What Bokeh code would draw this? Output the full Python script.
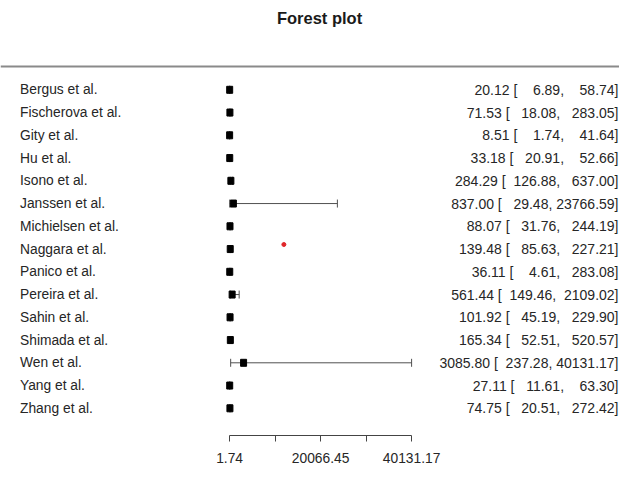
from bokeh.plotting import figure
from bokeh.models import (Range1d, LinearAxis, FixedTicker, Whisker, TeeHead,
                          ColumnDataSource, Span, CustomJSTickFormatter)
from bokeh.core.properties import value
from bokeh.embed import file_html
from bokeh.resources import INLINE

# ---------------- data ----------------
studies = ["Bergus et al.", "Fischerova et al.", "Gity et al.", "Hu et al.",
           "Isono et al.", "Janssen et al.", "Michielsen et al.", "Naggara et al.",
           "Panico et al.", "Pereira et al.", "Sahin et al.", "Shimada et al.",
           "Wen et al.", "Yang et al.", "Zhang et al."]
estimate = [20.12, 71.53, 8.51, 33.18, 284.29, 837.00, 88.07, 139.48,
            36.11, 561.44, 101.92, 165.34, 3085.80, 27.11, 74.75]
lower = [6.89, 18.08, 1.74, 20.91, 126.88, 29.48, 31.76, 85.63,
         4.61, 149.46, 45.19, 52.51, 237.28, 11.61, 20.51]
upper = [58.74, 283.05, 41.64, 52.66, 637.00, 23766.59, 244.19, 227.21,
         283.08, 2109.02, 229.90, 520.57, 40131.17, 63.30, 272.42]
tick_values = [1.74, 20066.45, 40131.17]
minor_tick_values = [10034.1, 30098.81]
extra_point_x = [11970.0]   # stray red dot near the Naggara row
extra_point_y = [7.8]
title_text = "Forest plot"

# ---------------- layout (pixels) ----------------
W, H = 619, 471
FRAME_H = 435
px_lo, px_hi = 229.1, 411.1          # pixel positions of first / last axis tick
row_top_px, row_gap = 89.3, 22.75
FONT = "Liberation Sans"
TXT = "#262626"
NB = "\u00a0"

lo_t, hi_t = tick_values[0], tick_values[-1]
s = (px_hi - px_lo) / (hi_t - lo_t)
f_start = lo_t - px_lo / s
f_end = lo_t + (W - px_lo) / s

y_top = 1 - row_top_px / row_gap
y_bot = 1 + (FRAME_H - row_top_px) / row_gap


def fmt(v):
    return f"{v:.2f}".rjust(8)


annot = [f"{fmt(e)} [{fmt(l)}, {fmt(u)}]".replace(" ", NB)
         for e, l, u in zip(estimate, lower, upper)]

rows = list(range(1, len(studies) + 1))
src = ColumnDataSource(dict(study=studies, y=rows, est=estimate, lo=lower, hi=upper,
                            annot=annot))

p = figure(width=W, height=H, x_range=Range1d(0, W),
           y_range=Range1d(y_bot, y_top), x_axis_type=None, y_axis_type=None,
           output_backend="svg", toolbar_location=None,
           min_border_left=0, min_border_right=0, min_border_top=0,
           min_border_bottom=H - FRAME_H)
p.extra_x_ranges = {"forest": Range1d(f_start, f_end)}
p.grid.visible = False
p.outline_line_color = None
p.background_fill_color = "white"
p.border_fill_color = "white"

# title
p.text(x=[319], y=[y_top + 17.4 / row_gap], text=[title_text], text_font=value(FONT),
       text_font_size="16.5px", text_font_style="bold", text_color="#1a1a1a",
       text_align="center", text_baseline="middle")

# header rule
p.add_layout(Span(location=y_top + 66 / row_gap, dimension="width",
                  line_color="#8a8a8a", line_width=2))

# study labels
p.text(x=19.5, y="y", text="study", source=src, text_font=value(FONT),
       text_font_size="13.8px", text_color=TXT, text_align="left",
       text_baseline="middle")

# right-hand annotation (estimate [lower, upper])
p.text(x=618, y="y", text="annot", source=src, text_font=value(FONT),
       text_font_size="14px", text_color=TXT, text_align="right",
       text_baseline="middle")

# confidence intervals
ci_col = "#505050"
p.add_layout(Whisker(source=src, base="y", lower="lo", upper="hi", dimension="width",
                     x_range_name="forest", line_color=ci_col, line_width=1,
                     lower_head=TeeHead(size=8, line_color=ci_col, line_width=1),
                     upper_head=TeeHead(size=8, line_color=ci_col, line_width=1)))

# point estimates
p.rect(x="est", y="y", width=6, height=7, width_units="screen", height_units="screen",
       source=src, x_range_name="forest", fill_color="black", line_color="black")

# stray red dot
p.scatter(x=extra_point_x, y=extra_point_y, x_range_name="forest", size=4,
          fill_color="#e0262a", line_color="#e0262a")

# bottom axis
ax = LinearAxis(x_range_name="forest", bounds=(lo_t, hi_t),
                ticker=FixedTicker(ticks=tick_values, minor_ticks=minor_tick_values),
                formatter=CustomJSTickFormatter(code="return tick.toFixed(2);"))
ax.axis_line_color = "#444444"
ax.major_tick_line_color = "#444444"
ax.minor_tick_line_color = "#444444"
ax.major_tick_in = 0
ax.major_tick_out = 6
ax.minor_tick_in = 0
ax.minor_tick_out = 6
ax.major_label_standoff = 11
ax.major_label_text_font = FONT
ax.major_label_text_font_size = "13.8px"
ax.major_label_text_color = TXT
p.add_layout(ax, "below")

open("out.html", "w").write(file_html(p, INLINE))
